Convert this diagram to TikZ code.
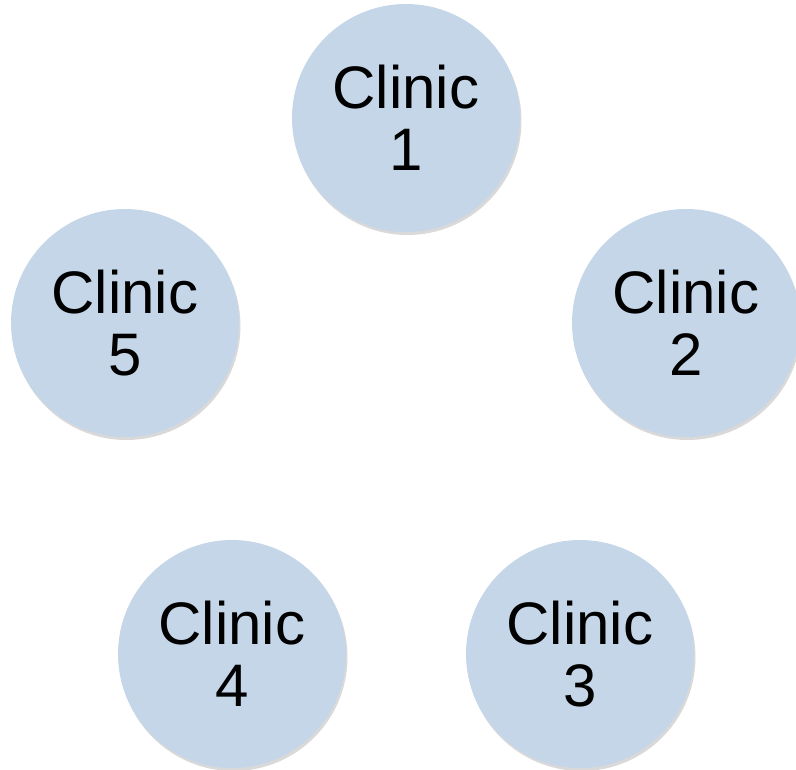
\documentclass[tikz,border=0pt]{standalone}
\usepackage{fontspec}
\setmainfont{Liberation Sans}
\usetikzlibrary{shadows}
\definecolor{clinicfill}{HTML}{C4D6E8}
\tikzset{
  clinic/.style = {circle, fill = clinicfill, minimum size = 228pt, inner sep = 0pt, align = center,
    font = \fontsize{60}{62}\selectfont, text = black,
    drop shadow = {shadow xshift = 1.5pt, shadow yshift = -3pt, opacity = 0.25, fill = black!60}}
}
\begin{document}
\begin{tikzpicture}[x = 1pt, y = -1pt]
\useasboundingbox (0, 0) rectangle (796, 770);
\node[clinic] (c1) at (406, 118) {Clinic\\1};
\node[clinic] (c2) at (686, 323) {Clinic\\2};
\node[clinic] (c3) at (580, 654) {Clinic\\3};
\node[clinic] (c4) at (232, 654) {Clinic\\4};
\node[clinic] (c5) at (125, 323) {Clinic\\5};
\end{tikzpicture}
\end{document}
